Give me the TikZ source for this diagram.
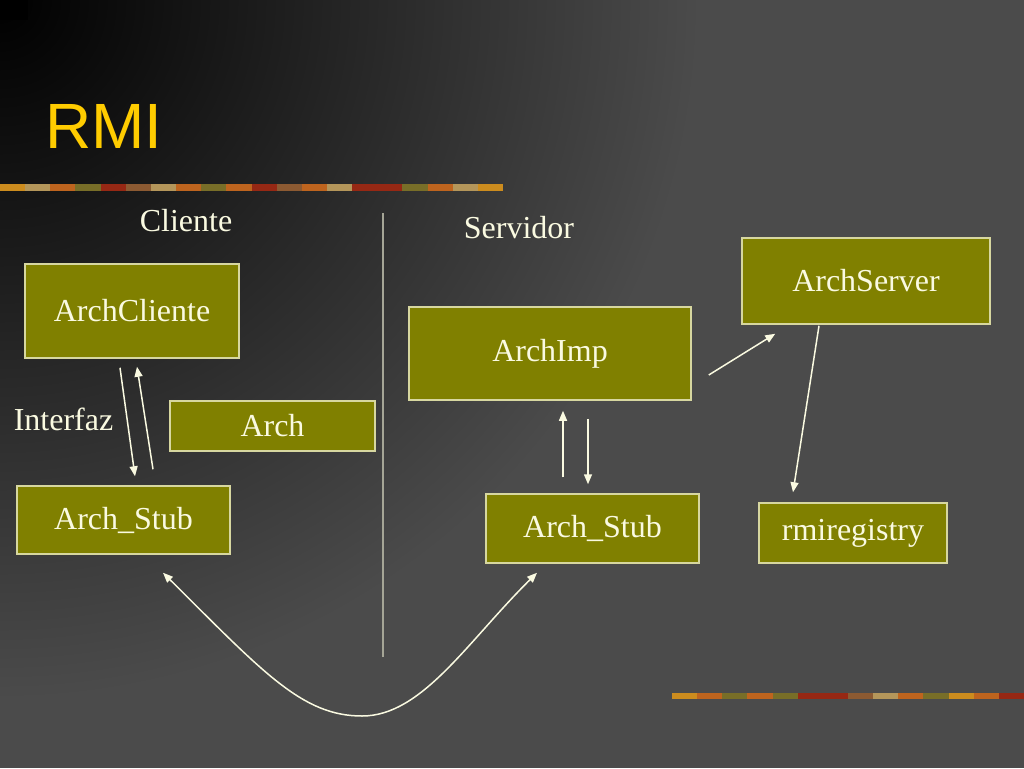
\documentclass[tikz,border=0pt]{standalone}
\usepackage{fontspec}
\setmainfont{Liberation Serif}
\newfontfamily\titlefont{Liberation Sans}
\usetikzlibrary{arrows.meta}
\definecolor{boxfill}{RGB}{128,128,0}
\definecolor{boxline}{RGB}{215,215,160}
\definecolor{txt}{RGB}{250,250,225}
\definecolor{titleyellow}{RGB}{255,204,0}
\definecolor{divline}{RGB}{165,165,150}
\definecolor{bggray}{RGB}{75,75,75}
\definecolor{barA}{RGB}{204,140,30}
\definecolor{barB}{RGB}{190,100,30}
\definecolor{barC}{RGB}{120,110,40}
\definecolor{barD}{RGB}{150,40,20}
\definecolor{barE}{RGB}{140,90,50}
\definecolor{barF}{RGB}{180,150,90}
\begin{document}
\begin{tikzpicture}[x=1pt,y=-1pt,
    box/.style={draw=boxline,fill=boxfill,line width=1.5pt,text=txt,
        font=\fontsize{32}{38}\selectfont,inner sep=0pt},
    lbl/.style={text=txt,font=\fontsize{32}{38}\selectfont,inner sep=0pt,anchor=base},
    arr/.style={draw=txt,line width=1.5pt,-{Triangle[length=10pt,width=8pt]}},
    arrs/.style={arr,{Triangle[length=10pt,width=8pt]}-{Triangle[length=10pt,width=8pt]}}]
    \useasboundingbox (0,0) rectangle (1024,768);
    % background
    \fill[bggray] (0,0) rectangle (1024,768);
    \begin{scope}
        \clip (0,0) rectangle (1024,768);
        \shade[inner color=black,outer color=bggray] (0,0) circle (700);
    \end{scope}
    \fill[black] (0,0) rectangle (28,20);
    % decorative bars
    \foreach \c [count=\i from 0] in {barA,barF,barB,barC,barD,barE,barF,barB,barC,barB,
            barD,barE,barB,barF,barD,barD,barC,barB,barF,barA}
        \fill[\c] (\i*25.15,184) rectangle ++(25.15,7);
    \foreach \c [count=\i from 0] in {barA,barB,barC,barB,barC,barD,barD,barE,barF,barB,
            barC,barA,barB,barD}
        \fill[\c] (672+\i*25.14,693) rectangle ++(25.14,6);
    % title
    \node[anchor=base west,inner sep=0pt,text=titleyellow,
        font=\titlefont\fontsize{64}{70}\selectfont] (title) at (45,148) {RMI};
    % divider
    \draw[divline,line width=2pt] (383,213) -- (383,657);
    % labels
    \node[lbl] (cliente) at (186,231) {Cliente};
    \node[lbl] (servidor) at (519,238) {Servidor};
    \node[lbl] (interfaz) at (63.5,430) {Interfaz};
    % boxes
    \node[box,minimum width=214pt,minimum height=94pt] (cli) at (132,311) {ArchCliente};
    \node[box,minimum width=205pt,minimum height=50pt] (arch) at (272.5,426) {Arch};
    \node[box,minimum width=213pt,minimum height=68pt] (stubL) at (123.5,520) {Arch\_Stub};
    \node[box,minimum width=282pt,minimum height=93pt] (imp) at (550,353.5) {ArchImp};
    \node[box,minimum width=213pt,minimum height=69pt] (stubR) at (592.5,528.5) {Arch\_Stub};
    \node[box,minimum width=248pt,minimum height=86pt] (srv) at (866,281) {ArchServer};
    \node[box,minimum width=188pt,minimum height=60pt] (reg) at (853,533) {rmiregistry};
    % arrows
    \draw[arr] ([xshift=-12pt,yshift=-9pt]cli.south) -- ([xshift=11.5pt,yshift=9pt]stubL.north);
    \draw[arr] ([xshift=29.5pt,yshift=16pt]stubL.north) -- ([xshift=5pt,yshift=-8pt]cli.south);
    \draw[arr] ([xshift=-29.5pt,yshift=16pt]stubR.north) -- ([xshift=13pt,yshift=-10pt]imp.south);
    \draw[arr] ([xshift=38pt,yshift=-18pt]imp.south) -- ([xshift=-4.5pt,yshift=9pt]stubR.north);
    \draw[arr] ([xshift=17pt,yshift=-21.5pt]imp.east) -- ([xshift=34pt,yshift=-9pt]srv.south west);
    \draw[arr] ([xshift=-47pt,yshift=-1pt]srv.south) -- ([xshift=-60pt,yshift=10pt]reg.north);
    \draw[arrs] ([xshift=39.5pt,yshift=-18pt]stubL.south)
        .. controls (263,672) and (302,716) .. (362,716)
        .. controls (422,716) and (467,642) .. ([xshift=-55.5pt,yshift=-9pt]stubR.south);
\end{tikzpicture}
\end{document}
